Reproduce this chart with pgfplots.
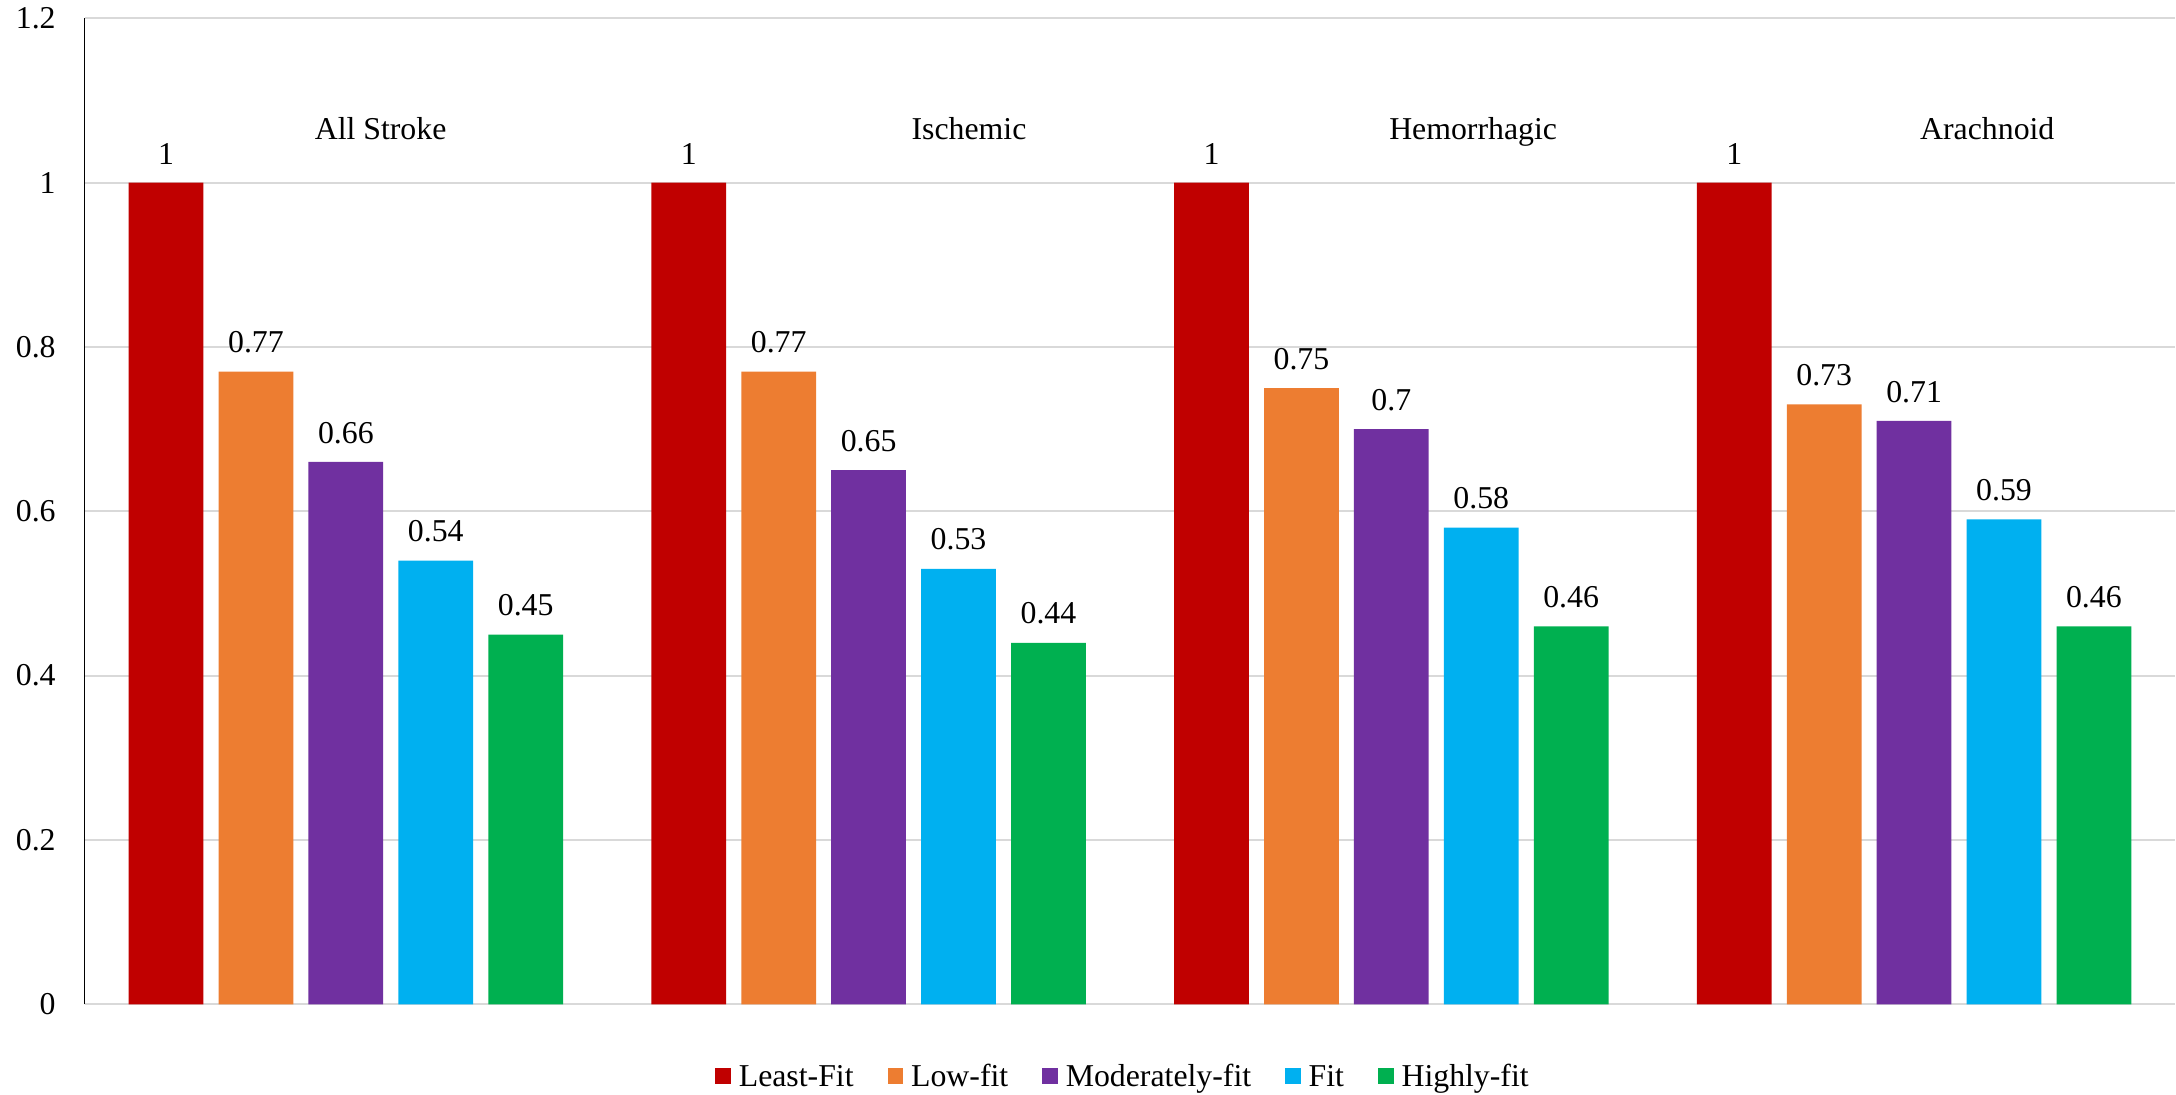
\documentclass[border=0pt]{standalone}
\usepackage{pgfplots}
\pgfplotsset{compat=1.18}
\usepackage{fontspec}
\setmainfont{Liberation Serif}
\definecolor{leastfit}{HTML}{C00000}
\definecolor{lowfit}{HTML}{ED7D31}
\definecolor{modfit}{HTML}{7030A0}
\definecolor{fitc}{HTML}{00B0F0}
\definecolor{highfit}{HTML}{00B050}
\definecolor{gridgray}{HTML}{D9D9D9}

\begin{document}
\fontsize{15.9}{19}\selectfont
\begin{tikzpicture}
\path[use as bounding box] (0,0) rectangle (1088pt,547.5pt);
\begin{axis}[
  at={(42.25pt,45.35pt)}, anchor=south west,
  scale only axis, width=1045.5pt, height=493pt,
  xmin=-0.5, xmax=3.5, ymin=0, ymax=1.2,
  ytick={0,0.2,0.4,0.6,0.8,1,1.2},
  xtick=\empty,
  ymajorgrids, grid style={gridgray, line width=1pt},
  axis x line*=bottom, axis y line*=left,
  x axis line style={gridgray, line width=1pt, -},
  y axis line style={black, line width=0.5pt, -},
  major tick length=0pt,
  yticklabel style={inner sep=0pt, xshift=-14.25pt},
  /pgf/number format/assume math mode=true,
  ybar, bar width=0.143,
  nodes near coords,
  every node near coord/.append style={anchor=south, inner sep=0pt, yshift=9pt},
  legend columns=5,
  legend style={at={(0.4962,-0.0727)}, anchor=center, draw=none, fill=none,
    column sep=4pt, /tikz/every even column/.append style={column sep=17pt},
    nodes={inner sep=0pt, text height=12pt, text depth=1.3pt}},
  legend image code/.code={\fill[#1] (0pt,-3.875pt) rectangle (7.75pt,3.875pt);},
  legend cell align=left,
]
\addplot[fill=leastfit, draw=none, bar shift=-0.344] coordinates {(0,1) (1,1) (2,1) (3,1)};
\addlegendentry{Least-Fit}
\addplot[fill=lowfit, draw=none, bar shift=-0.172] coordinates {(0,0.77) (1,0.77) (2,0.75) (3,0.73)};
\addlegendentry{Low-fit}
\addplot[fill=modfit, draw=none, bar shift=0] coordinates {(0,0.66) (1,0.65) (2,0.7) (3,0.71)};
\addlegendentry{Moderately-fit}
\addplot[fill=fitc, draw=none, bar shift=0.172] coordinates {(0,0.54) (1,0.53) (2,0.58) (3,0.59)};
\addlegendentry{Fit}
\addplot[fill=highfit, draw=none, bar shift=0.344] coordinates {(0,0.45) (1,0.44) (2,0.46) (3,0.46)};
\addlegendentry{Highly-fit}

% group names, placed by hand as in the original
\node[anchor=base] at (axis cs:0.0665,1.053) {All Stroke};
\node[anchor=base] at (axis cs:1.192,1.053) {Ischemic};
\node[anchor=base] at (axis cs:2.1565,1.053) {Hemorrhagic};
\node[anchor=base] at (axis cs:3.140,1.053) {Arachnoid};
\end{axis}
\end{tikzpicture}
\end{document}
